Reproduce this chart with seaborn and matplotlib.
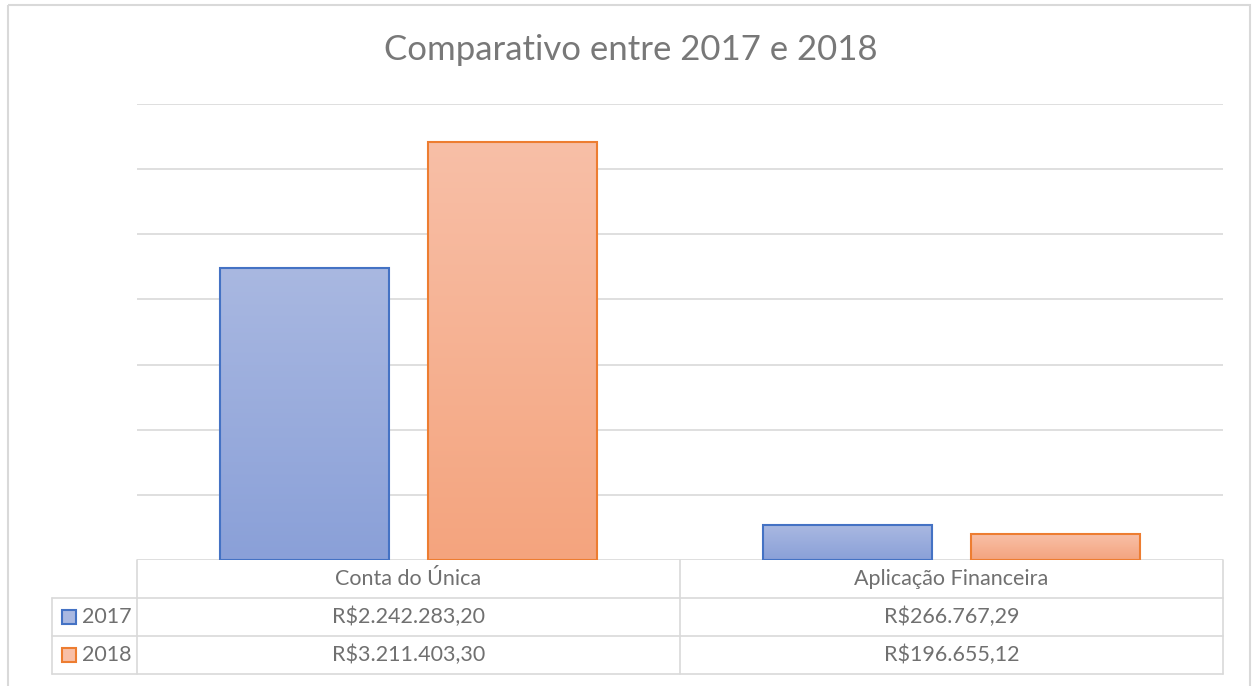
import numpy as np
import pandas as pd
import seaborn as sns
import matplotlib.pyplot as plt
from matplotlib.colors import LinearSegmentedColormap
from matplotlib.patches import Rectangle

# Data
categories = ['Conta do Única', 'Aplicação Financeira']
years = ['2017', '2018']
values_2017 = [2242283.20, 266767.29]
values_2018 = [3211403.30, 196655.12]

edge_colors = {'2017': '#4472C4', '2018': '#ED7D31'}
grad_colors = {'2017': ('#A9B8E1', '#8AA0D8'), '2018': ('#F8BFA7', '#F4A47E')}
text_color = '#707070'
line_color = '#D9D9D9'


def brl(v):
    s = f'{v:,.2f}'
    s = s.replace(',', 'X').replace('.', ',').replace('X', '.')
    return 'R$' + s


df = pd.DataFrame({
    'Categoria': categories * 2,
    'Ano': [years[0]] * 2 + [years[1]] * 2,
    'Valor': values_2017 + values_2018,
})

sns.set_style('white')
plt.rcParams['font.family'] = ['Lato', 'DejaVu Sans']

W, H = 1255, 686
fig = plt.figure(figsize=(W / 100, H / 100), dpi=100)

# plot area in pixel coords
left, right, top, bottom = 137, 1223, 104, 560
ax = fig.add_axes([left / W, (H - bottom) / H, (right - left) / W, (bottom - top) / H])

sns.barplot(data=df, x='Categoria', y='Valor', hue='Ano', hue_order=years,
            palette=[edge_colors[y] for y in years], width=0.766, gap=0.192,
            legend=False, ax=ax, zorder=3)

ax.set_ylim(0, 3500000)
ax.set_xlim(-0.5, 1.5)
ax.set_yticks(np.arange(0, 3500001, 500000))
ax.yaxis.grid(True, color=line_color, linewidth=1.2, zorder=0)
ax.set_yticklabels([])
ax.set_xticks([])
ax.set_xlabel('')
ax.set_ylabel('')
ax.tick_params(left=False, bottom=False)
for sp in ax.spines.values():
    sp.set_visible(False)

# gradient fill for each bar
grad = np.linspace(0, 1, 256).reshape(-1, 1)
n_cat = len(categories)
for i, patch in enumerate(ax.patches):
    yr = years[i // n_cat]
    c_top, c_bot = grad_colors[yr]
    cmap = LinearSegmentedColormap.from_list('g', [c_top, c_bot])
    x0, y0 = patch.get_x(), patch.get_y()
    w, h = patch.get_width(), patch.get_height()
    im = ax.imshow(grad, cmap=cmap, aspect='auto', extent=[x0, x0 + w, y0, y0 + h],
                   origin='upper', zorder=3)
    im.set_clip_path(patch)
    patch.set_facecolor('none')
    patch.set_edgecolor(edge_colors[yr])
    patch.set_linewidth(1.5)
    patch.set_zorder(4)
ax.set_xlim(-0.5, 1.5)
ax.set_ylim(0, 3500000)

# overlay in pixel coordinates for frame, title and data table
ov = fig.add_axes([0, 0, 1, 1], zorder=-1)
ov.set_xlim(0, W)
ov.set_ylim(H, 0)
ov.axis('off')
ov.add_patch(Rectangle((8, 5), 1242, 690, fill=False, edgecolor=line_color, linewidth=1.5))

fig.text(631 / W, 1 - 50 / H, 'Comparativo entre 2017 e 2018', ha='center', va='center',
         fontsize=25, color='#787878')

tab = fig.add_axes([0, 0, 1, 1], zorder=5)
tab.set_xlim(0, W)
tab.set_ylim(H, 0)
tab.axis('off')
tab.patch.set_alpha(0)

col_x = [left, 680, right]
row_y = [560, 598, 636, 674]
lw = 1.2
for x in col_x:
    tab.plot([x, x], [row_y[0], row_y[-1]], color=line_color, lw=lw)
tab.plot([52, 52], [row_y[1], row_y[-1]], color=line_color, lw=lw)
for y in row_y[1:]:
    tab.plot([52, right], [y, y], color=line_color, lw=lw)

fs = 15.5
for j, cat in enumerate(categories):
    cx = (col_x[j] + col_x[j + 1]) / 2
    tab.text(cx, (row_y[0] + row_y[1]) / 2, cat, ha='center', va='center',
             fontsize=fs, color=text_color)

series = {'2017': values_2017, '2018': values_2018}
for r, yr in enumerate(years):
    cy = (row_y[r + 1] + row_y[r + 2]) / 2
    c_top, c_bot = grad_colors[yr]
    tab.add_patch(Rectangle((62, cy - 7), 14, 14, facecolor=c_top,
                            edgecolor=edge_colors[yr], linewidth=1.5))
    tab.text(82, cy, yr, ha='left', va='center', fontsize=fs, color=text_color)
    for j, v in enumerate(series[yr]):
        cx = (col_x[j] + col_x[j + 1]) / 2
        tab.text(cx, cy, brl(v), ha='center', va='center', fontsize=fs, color=text_color)

fig.savefig('out.png', dpi=100, facecolor='white')
